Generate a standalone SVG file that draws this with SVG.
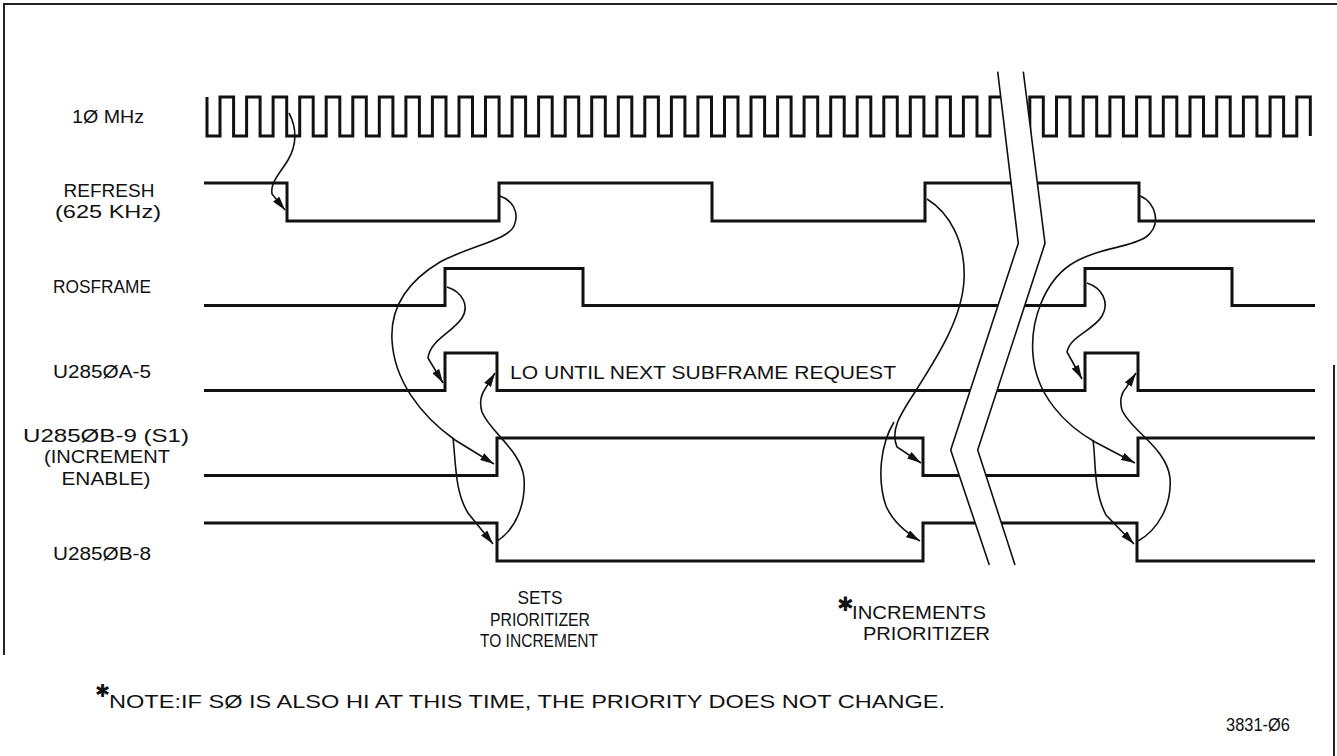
<svg xmlns="http://www.w3.org/2000/svg" width="1337" height="756" viewBox="0 0 1337 756">
<style>
.sig{fill:none;stroke:#111;stroke-width:3;stroke-linejoin:miter;stroke-linecap:butt}
.cur{fill:none;stroke:#111;stroke-width:1.6}
.brk{fill:none;stroke:#111;stroke-width:1.6}
.frm{fill:none;stroke:#222;stroke-width:2}
.t{font-family:"Liberation Sans",Arial,sans-serif;font-size:18px;fill:#111}
.tm{text-anchor:middle}
.star{font-family:"DejaVu Sans",sans-serif;font-weight:bold;fill:#111}
</style>
<defs>
<marker id="ah" viewBox="0 0 14 8" refX="14" refY="4" markerWidth="14" markerHeight="8" markerUnits="userSpaceOnUse" orient="auto"><path d="M0,0 L14,4 L0,8 z" fill="#111"/></marker>
</defs>
<rect width="1337" height="756" fill="#fff"/>
<g id="frame">
<path class="frm" d="M4,655 V4 H1337"/>
<path class="frm" d="M1334,365 V756"/>
</g>
<g id="labels">
<text class="t tm" x="108" y="123" textLength="72" lengthAdjust="spacingAndGlyphs">1Ø MHz</text>
<text class="t tm" x="109" y="197" textLength="91" lengthAdjust="spacingAndGlyphs">REFRESH</text>
<text class="t tm" x="108" y="218" textLength="106" lengthAdjust="spacingAndGlyphs">(625 KHz)</text>
<text class="t tm" x="102" y="293" textLength="98" lengthAdjust="spacingAndGlyphs">ROSFRAME</text>
<text class="t tm" x="102" y="378" textLength="98" lengthAdjust="spacingAndGlyphs">U285ØA-5</text>
<text class="t tm" x="106" y="442" textLength="166" lengthAdjust="spacingAndGlyphs">U285ØB-9 (S1)</text>
<text class="t tm" x="107" y="463" textLength="126" lengthAdjust="spacingAndGlyphs">(INCREMENT</text>
<text class="t tm" x="106" y="485" textLength="89" lengthAdjust="spacingAndGlyphs">ENABLE)</text>
<text class="t tm" x="102" y="560" textLength="98" lengthAdjust="spacingAndGlyphs">U285ØB-8</text>
</g>
<g id="clock">
<path class="sig" d="M207,97 V136 H220 V97 H233.6 V136 H246.6 V97 H260.1 V136 H273.1 V97 H286.7 V136 H299.7 V97 H313.2 V136 H326.2 V97 H339.8 V136 H352.8 V97 H366.3 V136 H379.3 V97 H392.9 V136 H405.9 V97 H419.4 V136 H432.4 V97 H446 V136 H459 V97 H472.5 V136 H485.5 V97 H499.1 V136 H512.1 V97 H525.6 V136 H538.6 V97 H552.2 V136 H565.2 V97 H578.7 V136 H591.7 V97 H605.3 V136 H618.3 V97 H631.8 V136 H644.8 V97 H658.4 V136 H671.4 V97 H684.9 V136 H697.9 V97 H711.5 V136 H724.5 V97 H738 V136 H751 V97 H764.6 V136 H777.6 V97 H791.1 V136 H804.1 V97 H817.7 V136 H830.7 V97 H844.2 V136 H857.2 V97 H870.8 V136 H883.8 V97 H897.3 V136 H910.3 V97 H923.9 V136 H936.9 V97 H950.4 V136 H963.4 V97 H977 V136 H990 V97 H1012"/>
<path class="sig" d="M1012,136 H1029.8 V97 H1043.3 V136 H1056.5 V97 H1070 V136 H1083.2 V97 H1096.7 V136 H1109.9 V97 H1123.4 V136 H1136.6 V97 H1150.1 V136 H1163.3 V97 H1176.8 V136 H1190 V97 H1203.5 V136 H1216.7 V97 H1230.2 V136 H1243.4 V97 H1256.9 V136 H1270.1 V97 H1283.6 V136 H1296.8 V97 H1310.3 V136"/>
</g>
<g id="refresh"><path class="sig" d="M204,183 H287 V221 H499 V183 H712 V221 H925 V183 H1139 V221 H1315"/></g>
<g id="rosframe"><path class="sig" d="M204,305.5 H445 V268.5 H583 V305.5 H1085 V268.5 H1232 V305.5 H1315"/></g>
<g id="u2850a5"><path class="sig" d="M204,390.5 H445 V353 H497 V390.5 H1085 V353 H1138 V390.5 H1315"/></g>
<g id="u2850b9"><path class="sig" d="M204,475.5 H497 V438 H923 V475.5 H1138 V438 H1315"/></g>
<g id="u2850b8"><path class="sig" d="M204,523 H497 V561 H923 V523 H1137 V561 H1315"/></g>
<g id="break">
<polygon fill="#fff" points="997.7,71.7 1018.3,243.3 950.7,450 989.3,565 1015,565 977.7,450 1045,243.3 1023.3,71.7"/>
<path class="brk" d="M997.7,71.7 L1018.3,243.3 L950.7,450 L989.3,565"/>
<path class="brk" d="M1023.3,71.7 L1045,243.3 L977.7,450 L1015,565"/>
</g>
<g id="connectors">
<path class="cur" marker-end="url(#ah)" d="M289,113 C297,128 297,145 288,160 C281,172 270,182 272,194 L285,210"/>
<path class="cur" marker-end="url(#ah)" d="M500,196 C512,200 520,212 514,226 C508,240 470,246 440,262 C410,280 390,305 392,340 C394,380 420,415 455,440 L494,464"/>
<path class="cur" marker-end="url(#ah)" d="M453,438 C456,465 455,492 468,513 L493,544"/>
<path class="cur" marker-end="url(#ah)" d="M447,287 C462,292 470,305 462,318 C452,333 430,340 428,358 L443,383"/>
<path class="cur" marker-end="url(#ah)" d="M497,541 C515,530 526,505 524,478 C521,450 490,432 482,412 C479,402 481,395 485,389 L495,373"/>
<path class="cur" marker-end="url(#ah)" d="M927,199 C948,212 966,240 964,280 C962,320 935,360 915,392 C900,415 890,430 897,447 L921,463"/>
<path class="cur" marker-end="url(#ah)" d="M894,422 C880,445 877,480 886,506 C893,522 905,532 920,541"/>
<path class="cur" marker-end="url(#ah)" d="M1140,196 C1156,202 1162,225 1146,237 C1130,248 1095,248 1070,265 C1045,282 1030,320 1033,355 C1036,395 1065,425 1095,442 L1135,463"/>
<path class="cur" marker-end="url(#ah)" d="M1093,440 C1096,460 1093,490 1106,515 L1134,544"/>
<path class="cur" marker-end="url(#ah)" d="M1087,283 C1102,288 1110,302 1102,316 C1094,330 1070,336 1067,352 L1082,379"/>
<path class="cur" marker-end="url(#ah)" d="M1138,541 C1158,530 1172,505 1170,478 C1167,448 1130,430 1122,410 C1119,400 1122,392 1126,388 L1136,373"/>
</g>
<g id="annotations">
<text class="t" x="510" y="379" textLength="386" lengthAdjust="spacingAndGlyphs">LO UNTIL NEXT SUBFRAME REQUEST</text>
<text class="t tm" x="540" y="604" textLength="45" lengthAdjust="spacingAndGlyphs">SETS</text>
<text class="t tm" x="540" y="626" textLength="100" lengthAdjust="spacingAndGlyphs">PRIORITIZER</text>
<text class="t tm" x="539" y="647" textLength="118" lengthAdjust="spacingAndGlyphs">TO INCREMENT</text>
<text class="star" x="837" y="611" font-size="20">✱</text>
<text class="t" x="852" y="619" textLength="134" lengthAdjust="spacingAndGlyphs">INCREMENTS</text>
<text class="t" x="863" y="640" textLength="127" lengthAdjust="spacingAndGlyphs">PRIORITIZER</text>
<text class="star" x="95" y="697" font-size="18">✱</text>
<text class="t" x="109" y="708" font-size="17" textLength="836" lengthAdjust="spacingAndGlyphs">NOTE:IF SØ IS ALSO HI AT THIS TIME, THE PRIORITY DOES NOT CHANGE.</text>
<text class="t" x="1226" y="731" font-size="16" textLength="64" lengthAdjust="spacingAndGlyphs">3831-Ø6</text>
</g>
</svg>
